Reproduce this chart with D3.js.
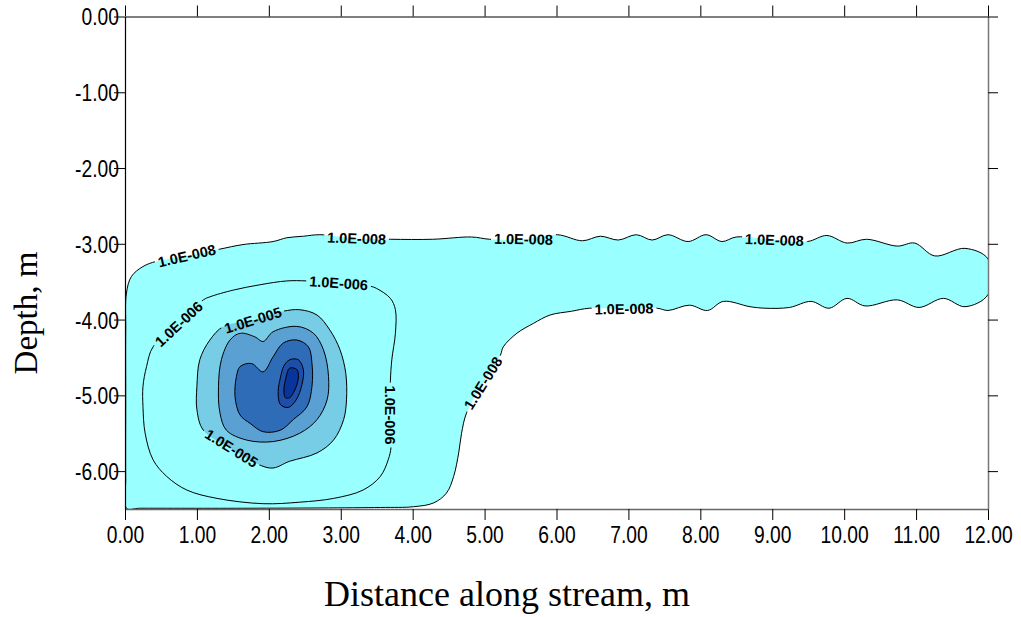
<!DOCTYPE html>
<html>
<head>
<meta charset="utf-8">
<script src="https://cdn.jsdelivr.net/npm/d3@7"></script>
<style>
  body { margin: 0; background: #fff; }
</style>
</head>
<body>
<div id="chart"></div>
<script>
var chart_width  = 1021;
var chart_height = 617;

// tick values
var xTicks = [0, 1, 2, 3, 4, 5, 6, 7, 8, 9, 10, 11, 12];
var yTicks = [0, -1, -2, -3, -4, -5, -6];

// contour levels (outer to inner) and their fill colours
var levels = [1e-8, 1e-6, 1e-5, 2e-5, 3e-5, 4e-5, 5e-5];
var levelColors = ['#99ffff', '#99ffff', '#78cde6', '#5aa0d3', '#2e6cb8', '#1d4ea9', '#08349b'];

// contour outlines, [distance m, depth m]
var c_1e8 = [
  [0.02,-6.49],[0.01,-6.11],[0.01,-5.06],[0.01,-4.14],[0.02,-3.65],[0.09,-3.43],[0.25,-3.30],
  [0.44,-3.23],[0.86,-3.16],[1.32,-3.07],[1.64,-3.01],[2.06,-2.97],[2.25,-2.92],[2.48,-2.90],
  [2.71,-2.88],[3.22,-2.93],[3.69,-2.94],[4.28,-2.94],[4.82,-2.91],[5.07,-2.94],[5.54,-2.94],
  [6.01,-2.88],[6.36,-2.96],[6.61,-2.90],[6.86,-2.95],[7.11,-2.88],[7.33,-2.95],[7.55,-2.88],
  [7.83,-2.97],[8.08,-2.88],[8.30,-2.97],[8.50,-2.91],[9.03,-2.95],[9.49,-2.97],[9.76,-2.89],
  [10.04,-2.99],[10.31,-2.94],[10.74,-3.03],[10.98,-2.99],[11.26,-3.16],[11.68,-3.06],[12.0,-3.20],
  [12.0,-3.67],[11.68,-3.83],[11.38,-3.72],[11.04,-3.84],[10.74,-3.74],[10.29,-3.82],[10.04,-3.72],
  [9.79,-3.85],[9.54,-3.76],[9.24,-3.84],[8.90,-3.85],[8.69,-3.83],[8.32,-3.76],[8.10,-3.88],
  [7.85,-3.81],[7.55,-3.88],[7.40,-3.85],[6.94,-3.86],[6.46,-3.85],[6.21,-3.89],[5.91,-3.94],
  [5.68,-4.05],[5.45,-4.18],[5.26,-4.36],[5.22,-4.47],[4.98,-4.84],[4.75,-5.23],[4.68,-5.50],
  [4.64,-5.76],[4.57,-6.07],[4.47,-6.29],[4.29,-6.42],[4.01,-6.47],[3.55,-6.48],[1.74,-6.49],
  [0.21,-6.49]
];
var c_1e6 = [
  [2.53,-3.49],[2.25,-3.49],[1.88,-3.54],[1.51,-3.61],[1.18,-3.70],[1.09,-3.74],[0.75,-4.06],
  [0.39,-4.36],[0.30,-4.62],[0.25,-4.88],[0.25,-5.15],[0.28,-5.50],[0.39,-5.85],[0.58,-6.07],
  [0.86,-6.25],[1.28,-6.36],[1.92,-6.43],[2.43,-6.41],[2.90,-6.36],[3.31,-6.25],[3.55,-6.07],
  [3.66,-5.85],[3.70,-5.68],[3.69,-5.26],[3.69,-4.82],[3.71,-4.53],[3.76,-4.18],[3.76,-3.87],
  [3.69,-3.72],[3.50,-3.59],[3.41,-3.56],[2.97,-3.52]
];
var c_1e5 = [
  [1.37,-4.09],[1.78,-4.01],[2.20,-3.89],[2.43,-3.87],[2.67,-3.94],[2.85,-4.14],[2.99,-4.40],
  [3.07,-4.71],[3.08,-5.06],[3.04,-5.32],[2.90,-5.59],[2.67,-5.76],[2.29,-5.87],[2.02,-5.96],
  [1.48,-5.70],[1.09,-5.46],[1.00,-5.19],[1.00,-4.88],[1.04,-4.53],[1.18,-4.27]
];
var c_2e5 = [
  [1.46,-4.27],[1.60,-4.18],[1.81,-4.23],[1.92,-4.29],[2.06,-4.16],[2.39,-4.09],[2.62,-4.18],
  [2.76,-4.40],[2.83,-4.75],[2.81,-5.06],[2.67,-5.32],[2.43,-5.50],[2.06,-5.61],[1.69,-5.59],
  [1.41,-5.46],[1.32,-5.23],[1.30,-4.88],[1.34,-4.53]
];
var c_3e5 = [
  [1.60,-4.62],[1.76,-4.58],[1.92,-4.69],[2.06,-4.49],[2.20,-4.31],[2.39,-4.27],[2.55,-4.36],
  [2.60,-4.58],[2.60,-4.88],[2.53,-5.15],[2.34,-5.32],[2.16,-5.46],[1.92,-5.48],[1.74,-5.37],
  [1.60,-5.26],[1.53,-5.02],[1.55,-4.75]
];
var c_4e5 = [
  [2.29,-4.53],[2.41,-4.53],[2.48,-4.66],[2.46,-4.86],[2.38,-5.06],[2.27,-5.16],[2.16,-5.12],
  [2.13,-4.95],[2.16,-4.77],[2.21,-4.61]
];
var c_5e5 = [
  [2.29,-4.64],[2.39,-4.66],[2.41,-4.77],[2.36,-4.93],[2.29,-5.03],[2.23,-5.03],[2.21,-4.93],
  [2.24,-4.76]
];
var contourShapes = [c_1e8, c_1e6, c_1e5, c_2e5, c_3e5, c_4e5, c_5e5];

// contour labels: text, distance, depth, angle
var labelText  = ['1.0E-008','1.0E-008','1.0E-008','1.0E-008','1.0E-008','1.0E-008',
                  '1.0E-006','1.0E-006','1.0E-006','1.0E-005','1.0E-005'];
var labelX     = [0.86, 3.22, 5.54, 9.03, 6.94, 4.98, 2.97, 0.75, 3.69, 1.78, 1.48];
var labelY     = [-3.16, -2.93, -2.94, -2.95, -3.86, -4.84, -3.52, -4.06, -5.26, -4.01, -5.70];
var labelAngle = [-13, 2, 1, 2, -1, -58, 4, -43, 90, -17, 32];

var svg = d3.select('#chart')
  .append('svg')
  .attr('width', chart_width)
  .attr('height', chart_height);

var x_scale = d3.scaleLinear().domain([0, 12]).range([125, 988]);
var y_scale = d3.scaleLinear().domain([-6.5, 0]).range([509, 16.5]);

var defs = svg.append('defs');
defs.append('clipPath').attr('id', 'plot-clip')
  .append('rect')
  .attr('x', x_scale(0)).attr('y', y_scale(0))
  .attr('width', x_scale(12) - x_scale(0))
  .attr('height', y_scale(-6.5) - y_scale(0));

var mask = defs.append('mask').attr('id', 'label-gaps')
  .attr('maskUnits', 'userSpaceOnUse')
  .attr('x', 0).attr('y', 0).attr('width', chart_width).attr('height', chart_height);
mask.append('rect').attr('width', chart_width).attr('height', chart_height).attr('fill', '#fff');

var line = d3.line()
  .x(function(d) { return x_scale(d[0]); })
  .y(function(d) { return y_scale(d[1]); })
  .curve(d3.curveCatmullRomClosed.alpha(0.5));

var plot = svg.append('g').attr('clip-path', 'url(#plot-clip)');

// filled bands
plot.selectAll('path.fill')
  .data(contourShapes)
  .enter()
  .append('path')
  .attr('class', 'fill')
  .attr('d', line)
  .attr('fill', function(d, i) { return levelColors[i]; })
  .attr('stroke', 'none');

// contour lines, broken where labels sit
plot.append('g')
  .attr('mask', 'url(#label-gaps)')
  .selectAll('path')
  .data(contourShapes)
  .enter()
  .append('path')
  .attr('d', line)
  .attr('fill', 'none')
  .attr('stroke', '#000')
  .attr('stroke-width', 1);

// contour labels
var labels = plot.selectAll('text.clabel')
  .data(labelText)
  .enter()
  .append('text')
  .attr('class', 'clabel')
  .attr('transform', function(d, i) {
    return 'translate(' + x_scale(labelX[i]) + ',' + y_scale(labelY[i]) + ') rotate(' + labelAngle[i] + ')';
  })
  .attr('text-anchor', 'middle')
  .attr('dominant-baseline', 'central')
  .style('font-family', 'Liberation Sans, Arial, sans-serif')
  .style('font-size', '14.5px')
  .style('font-weight', 'bold')
  .attr('fill', '#000')
  .text(function(d) { return d; });

labels.each(function(d, i) {
  var b = this.getBBox();
  mask.append('rect')
    .attr('transform', d3.select(this).attr('transform'))
    .attr('x', b.x - 3).attr('y', b.y)
    .attr('width', b.width + 6).attr('height', b.height)
    .attr('fill', '#000');
});

// axes
var tickFont = "'Liberation Sans', Arial, sans-serif";
var narrow = 0.82;   // squeeze Liberation Sans to look like Arial Narrow
var fmt = function(d) { return d.toFixed(2); };

var xAxis = svg.append('g')
  .attr('transform', 'translate(0,' + y_scale(-6.5) + ')')
  .call(d3.axisBottom(x_scale).tickValues(xTicks).tickFormat(fmt).tickSize(11).tickSizeOuter(0).tickPadding(6));

var xTop = svg.append('g')
  .attr('transform', 'translate(0,' + y_scale(0) + ')')
  .call(d3.axisTop(x_scale).tickValues(xTicks).tickFormat('').tickSize(11).tickSizeOuter(0));

var yAxis = svg.append('g')
  .attr('transform', 'translate(' + x_scale(0) + ',0)')
  .call(d3.axisLeft(y_scale).tickValues(yTicks).tickFormat(fmt).tickSize(11).tickSizeOuter(0).tickPadding(-5));

var yRight = svg.append('g')
  .attr('transform', 'translate(' + x_scale(12) + ',0)')
  .call(d3.axisRight(y_scale).tickValues(yTicks).tickFormat('').tickSize(10).tickSizeOuter(0));

[xAxis, xTop, yAxis, yRight].forEach(function(g) {
  g.selectAll('line').attr('stroke', '#000').attr('stroke-width', 1);
  g.selectAll('.domain').attr('stroke', '#000').attr('stroke-width', 1.2);
  g.selectAll('text')
    .style('font-family', tickFont)
    .style('font-size', '23.5px')
    .attr('fill', '#000')
    .attr('x', function() { return (+d3.select(this).attr('x') || 0) / narrow; })
    .attr('transform', 'scale(' + narrow + ',1)');
});
yRight.selectAll('.domain').attr('stroke', '#777').attr('stroke-width', 1.5);
xAxis.selectAll('.domain').attr('stroke', '#666').attr('stroke-width', 1.5);
yAxis.selectAll('text').attr('dy', '0.36em');

// axis titles
svg.append('text')
  .attr('x', 507)
  .attr('y', 606)
  .attr('text-anchor', 'middle')
  .style('font-family', "'Liberation Serif', 'Times New Roman', serif")
  .style('font-size', '36px')
  .text('Distance along stream, m');

svg.append('text')
  .attr('transform', 'translate(37,313) rotate(-90)')
  .attr('text-anchor', 'middle')
  .style('font-family', "'Liberation Serif', 'Times New Roman', serif")
  .style('font-size', '33px')
  .text('Depth, m');
</script>
</body>
</html>
